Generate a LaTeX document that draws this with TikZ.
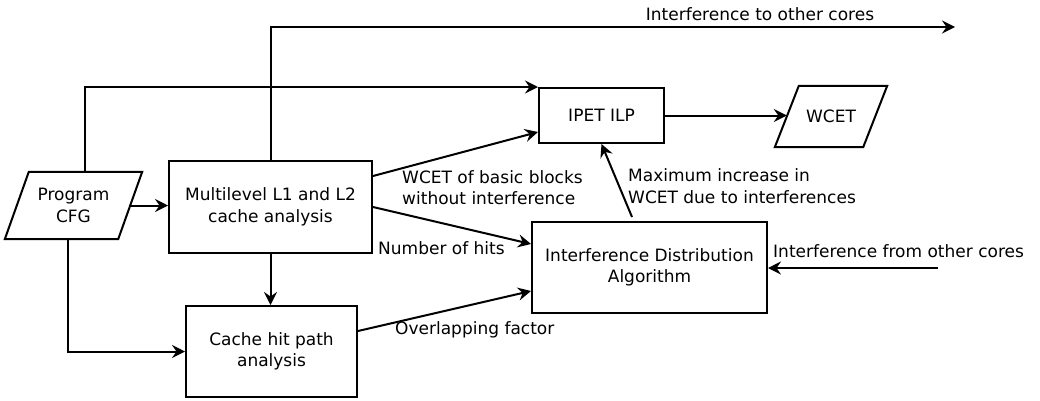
\documentclass[tikz,border=0pt]{standalone}
\usepackage{fontspec}
\setmainfont{DejaVu Sans}
\usetikzlibrary{arrows.meta,calc}
\begin{document}
\begin{tikzpicture}[x=1pt,y=-1pt,
  every node/.style={font=\fontsize{17}{21.5}\selectfont},
  box/.style={draw,line width=2pt,rectangle,align=center,inner sep=0pt},
  pglnode/.style={rectangle,align=center,inner sep=0pt},
  pgl/.style={line width=2pt},
  arr/.style={line width=2pt,-{Stealth[length=13pt,width=13pt,inset=4.5pt]}},
  lbl/.style={inner sep=0pt,align=left,anchor=west}]
\useasboundingbox (0,0) rectangle (1040,400);
% nodes
\node[pglnode,minimum width=113pt,minimum height=67pt] (p) at (73.5,205.5) {Program\\CFG};
\draw[pgl] ($(p.north west)+(12,0)$) -- ($(p.north east)+(12,0)$) -- ($(p.south east)+(-12,0)$) -- ($(p.south west)+(-12,0)$) -- cycle;
\node[box,minimum width=203pt,minimum height=92pt] (m) at (270.5,207) {Multilevel L1 and L2\\cache analysis};
\node[box,minimum width=171pt,minimum height=91pt] (c) at (271.5,351.5) {Cache hit path\\analysis};
\node[box,minimum width=125pt,minimum height=55pt] (i) at (601.5,115.5) {IPET ILP};
\node[pglnode,minimum width=88pt,minimum height=61pt] (w) at (831,116.5) {WCET};
\draw[pgl] ($(w.north west)+(12,0)$) -- ($(w.north east)+(12,0)$) -- ($(w.south east)+(-12,0)$) -- ($(w.south west)+(-12,0)$) -- cycle;
\node[box,minimum width=235pt,minimum height=91pt] (d) at (649.5,267.5) {Interference Distribution\\Algorithm};
\coordinate (oc) at (955,27);
\coordinate (ic) at (938,268);
% connectors
\draw[arr] (p.east) -- (p.east -| m.west);
\draw[arr] ($(p.north)+(11,0)$) |- (i.north west);
\draw[arr] ($(p.south)+(-6,0)$) |- (c.west);
\draw[arr] (m.north) |- (oc);
\draw[arr] (m.south) -- (m.south |- c.north);
\draw[arr] ($(m.north east)+(0,16)$) -- ($(i.south west)+(0,-12)$);
\draw[arr] ($(m.north east)+(0,47)$) -- ($(d.north west)+(0,23)$);
\draw[arr] ($(c.north east)+(0,26)$) -- ($(d.north west)+(0,70)$);
\draw[arr] ($(d.north west)+(101,-4)$) -- (i.south);
\draw[arr] (i.east) -- (i.east -| w.west);
\draw[arr] (ic) -- (ic -| d.east);
% labels
\node[inner sep=0pt] (l1) at (760,14) {Interference to other cores};
\node[lbl] (l2) at (402,187.5) {WCET of basic blocks\\without interference};
\node[lbl] (l3) at (378,248) {Number of hits};
\node[lbl] (l4) at (395,330) {Overlapping factor};
\node[lbl] (l5) at (628,186) {Maximum increase in\\WCET due to interferences};
\node[lbl] (l6) at (773,251) {Interference from other cores};
\end{tikzpicture}
\end{document}
